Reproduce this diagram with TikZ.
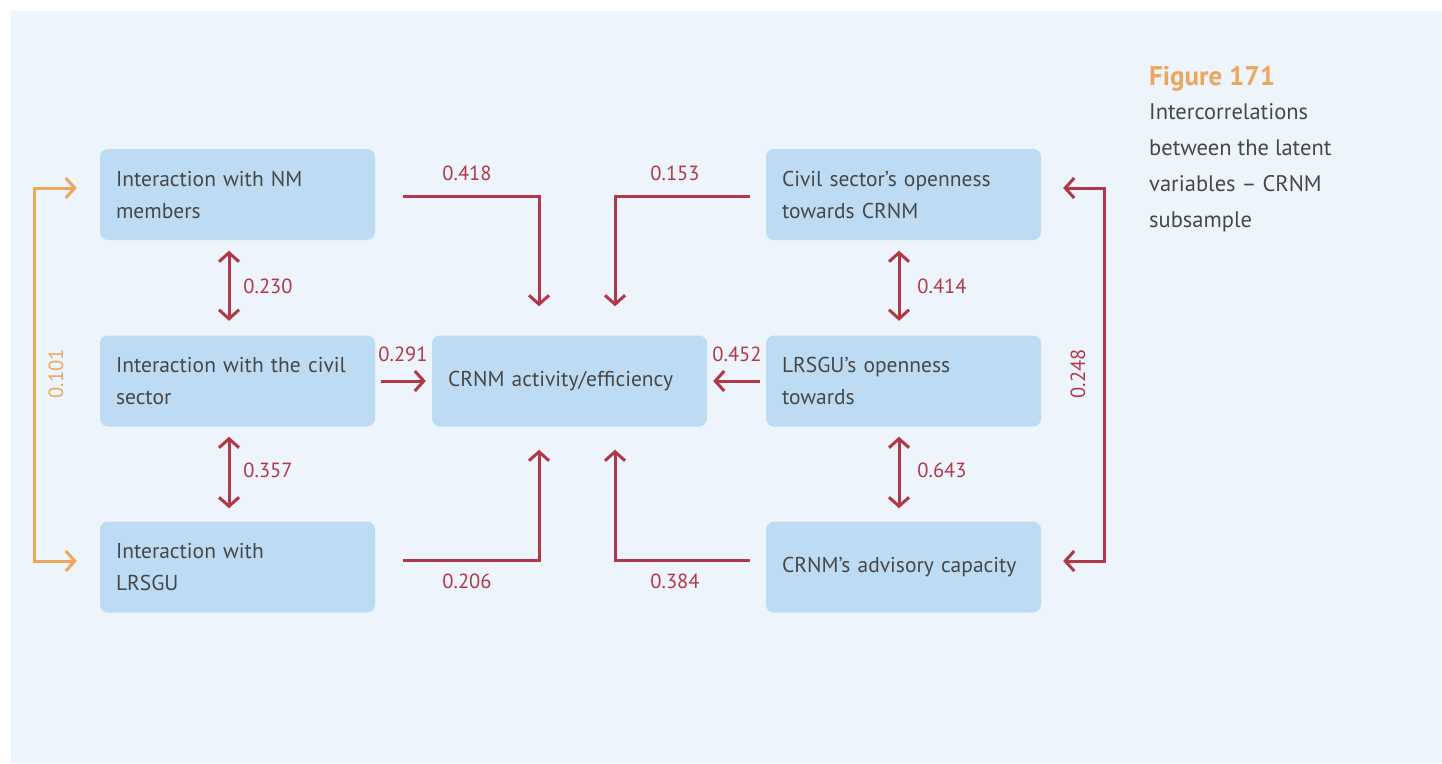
\documentclass[tikz,border=0pt]{standalone}
\usepackage{fontspec}
\setmainfont{PT Sans}
\usetikzlibrary{arrows.meta}
\definecolor{bgc}{HTML}{EDF4FC}
\definecolor{boxc}{HTML}{BDDCF3}
\definecolor{redc}{HTML}{B23848}
\definecolor{orc}{HTML}{EEA65A}
\definecolor{txtc}{HTML}{474747}
\tikzset{
  box/.style={fill=boxc, rounded corners=8pt, minimum width=275pt, minimum height=91pt,
    text width=243pt, inner xsep=16pt, align=left, text=txtc,
    font=\fontsize{21.5}{32}\selectfont},
  barb/.tip={Straight Barb[length=9pt,width=20pt]},
  link/.style={draw=redc, line width=3pt, -barb},
  dlink/.style={draw=redc, line width=3pt, barb-barb},
  olink/.style={draw=orc, line width=3pt, barb-barb},
  lbl/.style={text=redc, inner sep=0pt, font=\fontsize{20.5}{20.5}\selectfont},
}
\begin{document}
\begin{tikzpicture}[x=1pt,y=-1pt]
\useasboundingbox (0,0) rectangle (1442,763);
\fill[bgc] (11,11) rectangle (1442,763);

\node[box] (A) at (237.5,194.5) {Interaction with NM\\members};
\node[box] (B) at (237.5,381) {Interaction with the civil\\sector};
\node[box] (C) at (237.5,567) {Interaction with\\LRSGU};
\node[box] (M) at (569.5,381) {CRNM activity/efficiency};
\node[box] (D) at (903.5,194.5) {Civil sector’s openness\\towards CRNM};
\node[box] (E) at (903.5,381) {LRSGU’s openness\\towards};
\node[box] (F) at (903.5,567) {CRNM’s advisory capacity};

\draw[link] ([xshift=28pt,yshift=-1.5pt]A.east) -| ([xshift=-30.5pt,yshift=29pt]M.north);
\draw[link] ([xshift=-16pt,yshift=-1.5pt]D.west) -| ([xshift=45.5pt,yshift=29pt]M.north);
\draw[link] ([xshift=6pt]B.east) -- ([xshift=-6pt]M.west);
\draw[link] ([xshift=-6pt]E.west) -- ([xshift=6pt]M.east);
\draw[link] ([xshift=28pt,yshift=7pt]C.east) -| ([xshift=-30.5pt,yshift=-23pt]M.south);
\draw[link] ([xshift=-16pt,yshift=7pt]F.west) -| ([xshift=45.5pt,yshift=-23pt]M.south);

\draw[dlink] ([xshift=-8.5pt,yshift=-10.5pt]A.south) -- ([xshift=-8.5pt,yshift=14.5pt]B.north);
\draw[dlink] ([xshift=-8.5pt,yshift=-10pt]B.south) -- ([xshift=-8.5pt,yshift=13pt]C.north);
\draw[dlink] ([xshift=-4.5pt,yshift=-10.5pt]D.south) -- ([xshift=-4.5pt,yshift=14.5pt]E.north);
\draw[dlink] ([xshift=-4.5pt,yshift=-10pt]E.south) -- ([xshift=-4.5pt,yshift=13pt]F.north);

\coordinate (oA) at ([xshift=-23pt,yshift=6.5pt]A.west);
\coordinate (oC) at ([xshift=-23pt,yshift=6pt]C.west);
\draw[olink] (oA) -- ++(-42,0) |- (oC);
\coordinate (rD) at ([xshift=22pt,yshift=6.5pt]D.east);
\coordinate (rF) at ([xshift=22pt,yshift=6pt]F.east);
\draw[dlink] (rD) -- ++(41,0) |- (rF);

\node[lbl] (l418) at (467,173) {0.418};
\node[lbl] (l153) at (675,173) {0.153};
\node[lbl] (l291) at (403,354) {0.291};
\node[lbl] (l452) at (737,354) {0.452};
\node[lbl] (l206) at (467,581) {0.206};
\node[lbl] (l384) at (675,581) {0.384};
\node[lbl] (l230) at (268,286) {0.230};
\node[lbl] (l357) at (268,470) {0.357};
\node[lbl] (l414) at (942,286) {0.414};
\node[lbl] (l643) at (942,470) {0.643};
\node[lbl, text=orc, rotate=90] (l101) at (56,374) {0.101};
\node[lbl, rotate=90] (l248) at (1078,374) {0.248};

\node[anchor=base west, inner sep=0pt, text=orc, font=\fontsize{27}{27}\selectfont\bfseries] (title) at (1149,85) {Figure 171};
\node[anchor=north west, inner sep=0pt, align=left, text=txtc, font=\fontsize{22.5}{36}\selectfont] (cap) at (1149,103) {Intercorrelations\\between the latent\\variables – CRNM\\subsample};
\end{tikzpicture}
\end{document}
